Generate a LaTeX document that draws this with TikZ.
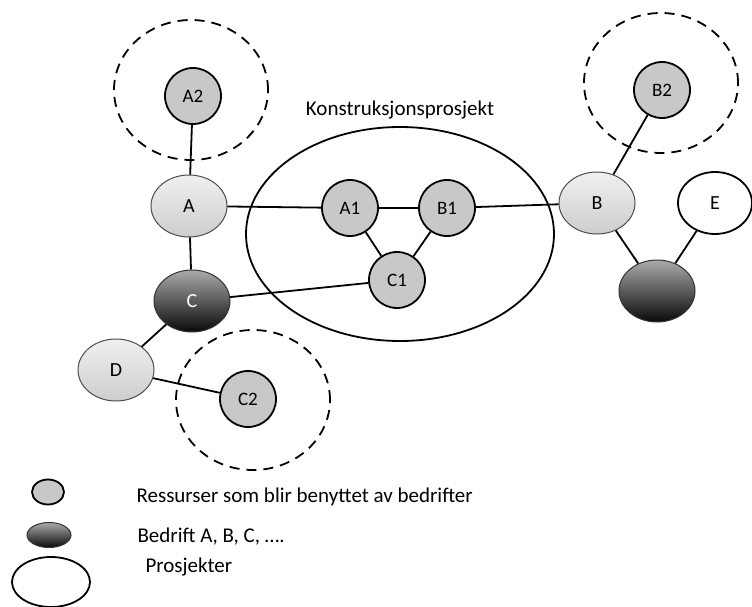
\documentclass[tikz,border=0pt]{standalone}
\usepackage{fontspec}
\setmainfont{Carlito}
\usetikzlibrary{shapes.geometric}

\definecolor{resgray}{RGB}{200,200,200}
\definecolor{lighttop}{RGB}{240,240,240}
\definecolor{lightbot}{RGB}{205,205,205}
\definecolor{darktop}{RGB}{170,170,170}
\definecolor{darkbot}{RGB}{10,10,10}

\tikzset{
  res/.style={circle, draw, line width=1.8pt, fill=resgray, minimum size=56pt, inner sep=0pt, font=\fontsize{19}{21}\selectfont},
  firm/.style={ellipse, draw=black!70, line width=1pt, minimum width=76pt, minimum height=62pt, inner sep=0pt, top color=lighttop, bottom color=lightbot, font=\fontsize{20}{22}\selectfont},
  firmdark/.style={firm, draw=black!80, top color=darktop, bottom color=darkbot, text=white},
  open/.style={ellipse, draw, line width=1.8pt, fill=white, minimum width=74pt, minimum height=62pt, inner sep=0pt, font=\fontsize{20}{22}\selectfont},
  zone/.style={ellipse, draw, line width=1.8pt, dash pattern=on 10pt off 7pt, minimum width=154pt, minimum height=140pt},
  proj/.style={ellipse, draw, line width=1.8pt, minimum width=308pt, minimum height=214pt},
  link/.style={line width=1.8pt},
  legtext/.style={anchor=west, font=\fontsize{21}{23}\selectfont}
}

\begin{document}
\begin{tikzpicture}[x=1pt,y=-1pt]
  \useasboundingbox (0,0) rectangle (752,607);
  % soner og prosjekt
  \node [zone] (za2) at (191,90) {};
  \node [zone] (zb2) at (661,83) {};
  \node [zone] (zc2) at (253,400) {};
  \node [proj, label={[font=\fontsize{21}{23}\selectfont, yshift=3pt]above:Konstruksjonsprosjekt}] (kp) at (400,234) {};

  % bedrifter
  \node [firm] (a) at (189,206) {A};
  \node [firm] (b) at (597,203) {B};
  \node [firmdark] (c) at (192,301) {C};
  \node [firm] (d) at (116,370) {D};
  \node [firmdark] (x) at (657,291) {};
  \node [open] (e) at (715,203) {E};

  % ressurser
  \node [res] (a2) at (193,96) {A2};
  \node [res] (b2) at (662,90) {B2};
  \node [res] (c2) at (248,399) {C2};
  \node [res] (a1) at (350,208) {A1};
  \node [res] (b1) at (447,208) {B1};
  \node [res] (c1) at (397,280) {C1};

  \draw [link] (a2) -- (a);
  \draw [link] (a) -- (a1);
  \draw [link] (a1) -- (b1);
  \draw [link] (a1) -- (c1);
  \draw [link] (b1) -- (c1);
  \draw [link] (b1) -- (b);
  \draw [link] (b) -- (b2);
  \draw [link] (b) -- (x);
  \draw [link] (x) -- (e);
  \draw [link] (a) -- (c);
  \draw [link] (c) -- (c1);
  \draw [link] (c) -- (d);
  \draw [link] (d) -- (c2);

  % forklaring
  \node [firm, draw=black, line width=1.8pt, top color=resgray, bottom color=resgray, minimum width=32pt, minimum height=25pt] (lres) at (48,492) {};
  \node [firmdark, minimum width=44pt, minimum height=25pt] (lfirm) at (49,535) {};
  \node [open, minimum width=78pt, minimum height=50pt] (lproj) at (51,582) {};
  \node [legtext] (tres) at (133,497) {Ressurser som blir benyttet av bedrifter};
  \node [legtext] (tfirm) at (134,537) {Bedrift A, B, C, ….};
  \node [legtext] (tproj) at (142,567) {Prosjekter};
\end{tikzpicture}
\end{document}
